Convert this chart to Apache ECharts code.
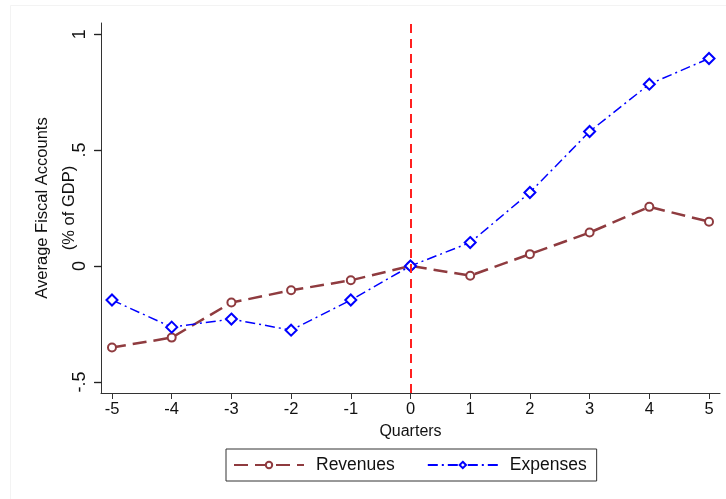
<!DOCTYPE html>
<html><head><meta charset="utf-8">
<script src="https://cdn.jsdelivr.net/npm/echarts@6/dist/echarts.min.js"></script>
<style>html,body{margin:0;padding:0;background:#fff}#c{width:726px;height:499px}</style>
</head><body><div id="c"></div>
<script>
const quarters = [-5,-4,-3,-2,-1,0,1,2,3,4,5];
const revenues = [-0.352,-0.309,-0.158,-0.105,-0.062,0,-0.042,0.051,0.144,0.255,0.191];
const expenses = [-0.147,-0.264,-0.229,-0.277,-0.147,0,0.101,0.317,0.580,0.784,0.895];
const xTicks = [-5,-4,-3,-2,-1,0,1,2,3,4,5];
const yTicks = [-0.5,0,0.5,1];
const yTickLabels = {"-0.5":"-.5","0":"0","0.5":".5","1":"1"};
const xMin = -5.184, xMax = 5.184, yMin = -0.548, yMax = 1.048;

const F = '"Liberation Sans", Arial, sans-serif';
const chart = echarts.init(document.getElementById('c'));
chart.setOption({
  backgroundColor:'#fff',
  animation:false,
  textStyle:{fontFamily:F},
  grid:{left:101,right:6,top:23,bottom:106,containLabel:false},
  xAxis:{type:'value',min:xMin,max:xMax,
    name:'Quarters',nameLocation:'middle',nameGap:31,nameMoveOverlap:false,
    nameTextStyle:{fontSize:16,color:'#111',fontFamily:F},
    axisLine:{show:true,onZero:false,lineStyle:{color:'#333',width:1}},
    axisTick:{show:true,inside:false,length:6,customValues:xTicks,lineStyle:{color:'#333'}},
    axisLabel:{customValues:xTicks,fontSize:16.5,color:'#111',margin:8,fontFamily:F},
    splitLine:{show:false}},
  yAxis:{type:'value',min:yMin,max:yMax,
    name:'Average Fiscal Accounts\n(% of GDP)',nameLocation:'middle',nameRotate:90,nameGap:18,
    nameMoveOverlap:false,
    nameTextStyle:{fontSize:16.5,color:'#111',lineHeight:27,fontFamily:F},
    axisLine:{show:true,onZero:false,lineStyle:{color:'#333',width:1}},
    axisTick:{show:true,length:7,customValues:yTicks,lineStyle:{color:'#222',width:1.2}},
    axisLabel:{customValues:yTicks,rotate:90,fontSize:18,color:'#111',margin:12,fontFamily:F,
      formatter:v=>yTickLabels[String(+(+v).toFixed(2))] ?? String(v)},
    splitLine:{show:false}},
  legend:{left:226,top:449,orient:'horizontal',
    padding:[7,10,7,7],itemGap:32,itemWidth:70,itemHeight:8,
    borderColor:'#333',borderWidth:1,
    textStyle:{fontSize:17.5,color:'#111',fontFamily:F,padding:[0,0,0,7]},
    data:['Revenues','Expenses']},
  series:[
    {name:'Revenues',type:'line',data:quarters.map((q,i)=>[q,revenues[i]]),
     symbol:'circle',symbolSize:8,showSymbol:true,
     itemStyle:{color:'#fff',borderColor:'#8f3b3f',borderWidth:2},
     lineStyle:{color:'#8f3b3f',width:2.5,type:[14,7]},z:3,
     markLine:{silent:true,symbol:['none','none'],label:{show:false},
       lineStyle:{color:'#ff2020',type:[9,6],width:2},data:[{xAxis:0}]}},
    {name:'Expenses',type:'line',data:quarters.map((q,i)=>[q,expenses[i]]),
     symbol:'diamond',symbolSize:11,showSymbol:true,
     itemStyle:{color:'#fff',borderColor:'#0000ff',borderWidth:2},
     lineStyle:{color:'#0000ff',width:1.5,type:[10,4,2,4]},z:4}
  ]
});
// y-axis tick marks placed through the library's own grid scales
const tickGraphics = [];
yTicks.forEach(v=>{
  const p = chart.convertToPixel({gridIndex:0}, [xMin, v]);
  if (p && isFinite(p[0]) && isFinite(p[1])) {
    const px = Math.round(p[0]) + 0.5, py = Math.round(p[1]) + 0.5;
    tickGraphics.push({type:'line',silent:true,z:50,zlevel:0,
      shape:{x1:px-7,y1:py,x2:px,y2:py},style:{stroke:'#222',lineWidth:1.2}});
  }
});
chart.setOption({graphic:[{type:'rect',silent:true,z:-10,shape:{x:10.5,y:5.5,width:730,height:510},
    style:{fill:null,stroke:'#f3f3f3',lineWidth:1}}].concat(tickGraphics)});
</script></body></html>
